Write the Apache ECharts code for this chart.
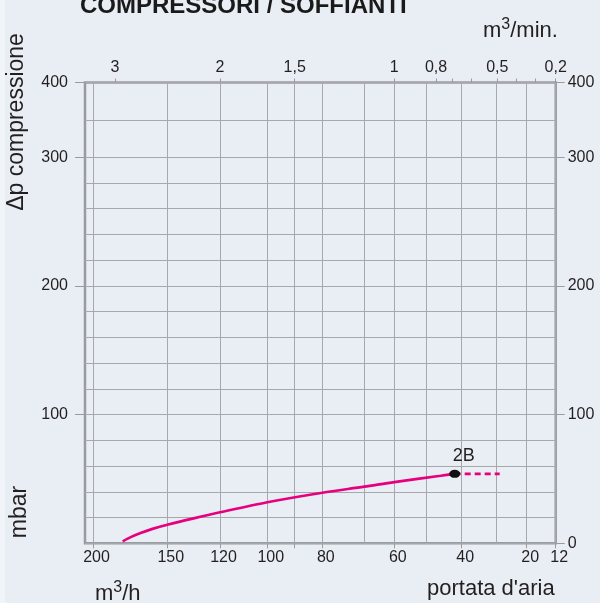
<!DOCTYPE html>
<html><head><meta charset="utf-8">
<script src="https://cdn.jsdelivr.net/npm/echarts@6/dist/echarts.min.js"></script>
<style>html,body{margin:0;padding:0;background:#e9eef5}#c{width:600px;height:603px}</style>
</head><body><div id="c"></div>
<script>
// ---- axis definitions (non-linear printed scales) ----
const flowGridValues = [200,150,120,100,90,80,70,60,50,40,30,20,12];          // m3/h grid lines
const flowScaleStops = [8,82.3,135,182.3,209.7,237.3,279.3,309.3,341.7,376.7,411.7,441.7,470.7]; // scale calibration
const flowScaleMax = 470.7;
const flowTickValues = [200,150,120,100,90,80,60,40,20,12];
const flowLabelValues = [200,150,120,100,80,60,40,20,12];
const minScaleValues = [3,2,1.5,1,0.8,0.7,0.6,0.5,0.4,0.3,0.2];   // m3/min printed scale
const minScaleStops = [30,135,209.7,309.3,351,367.7,386,412.3,431.7,450.3,470.7];
const minLabelValues = [3,2,1.5,1,0.8,0.5,0.2];
const pressureGridValues = [0,20,40,60,80,100,120,140,160,180,200,220,240,260,280,300,350,400];
const pressureLabelValues = [0,100,200,300,400];
const pressureScaleValues = [0,300,400];
const pressureScaleStops = [0,300,358.1];
// ---- data ----
const curveFlow = [180,175,168,160,150,135,120,100,80,70,60,46,42];      // m3/h
const curvePressure = [1.5,4.6,8.0,11.2,14.4,19.4,24.1,31.9,39.3,44,47.6,52.5,54]; // mbar
const extFlow = [42,29];
const extPressure = [54,54];
const pointFlow = 42, pointPressure = 54, pointName = '2B';

function interp(v, xs, ys){
  const n = xs.length;
  for (let i=0;i<n-1;i++){
    const a=xs[i], b=xs[i+1];
    if (v>=Math.min(a,b) && v<=Math.max(a,b)) return ys[i] + (v-a)/(b-a)*(ys[i+1]-ys[i]);
  }
  const i = Math.abs(v-xs[0]) < Math.abs(v-xs[n-1]) ? 0 : n-2;
  return ys[i] + (v-xs[i])/(xs[i+1]-xs[i])*(ys[i+1]-ys[i]);
}
const fx = v => interp(v, flowGridValues, flowScaleStops);
const mx = v => interp(v, minScaleValues, minScaleStops);
const py = v => interp(v, pressureScaleValues, pressureScaleStops);
function nearest(u, values, map){
  let best=values[0], bd=Infinity;
  values.forEach(v=>{const d=Math.abs(map(v)-u); if(d<bd){bd=d;best=v;}});
  return best;
}
const FONT = 'Liberation Sans, Arial, sans-serif';
const TXT = '#231f20';
const GRIDC = '#a6a8ab';
const AXC = '#999b9e';

const chart = echarts.init(document.getElementById('c'), null, {renderer:'canvas'});
const hidden = {axisLabel:{show:false}, axisLine:{show:false, onZero:false}};
chart.setOption({
  backgroundColor: '#e9eef5',
  animation: false,
  grid: {left:85, right:44.3, top:82.5, bottom:59.7, show:true, borderColor:AXC, borderWidth:2.5, backgroundColor:'transparent'},
  xAxis: [
    {type:'value', min:0, max:flowScaleMax, position:'bottom',
      axisLine:{show:false, onZero:false}, splitLine:{show:false},
      axisTick:{show:true, inside:false, length:5, lineStyle:{color:AXC}, customValues: flowTickValues.map(fx)},
      axisLabel:{show:true, margin:6, fontSize:16, fontFamily:FONT, color:TXT, padding:[0,0,0,7],
        customValues: flowLabelValues.map(fx),
        formatter: u => String(nearest(u, flowLabelValues, fx))}},
    {type:'value', min:0, max:flowScaleMax, position:'top',
      axisLine:{show:false, onZero:false}, splitLine:{show:false},
      axisTick:{show:true, inside:false, length:4, lineStyle:{color:AXC}, customValues: minScaleValues.map(mx)},
      axisLabel:{show:true, margin:7, fontSize:16, fontFamily:FONT, color:TXT,
        customValues: minLabelValues.map(mx),
        formatter: u => String(nearest(u, minLabelValues, mx)).replace('.', ',')}},
    Object.assign({type:'value', min:0, max:flowScaleMax,
      axisTick:{show:false, customValues: flowGridValues.map(fx)},
      splitLine:{show:true, lineStyle:{color:GRIDC, width:1}}}, hidden)
  ],
  yAxis: [
    {type:'value', min:0, max:pressureScaleStops[2], position:'left',
      axisLine:{show:false, onZero:false}, splitLine:{show:false},
      axisTick:{show:true, inside:false, length:10, lineStyle:{color:AXC}, customValues: pressureLabelValues.slice(1).map(py)},
      axisLabel:{show:true, margin:17, fontSize:16, fontFamily:FONT, color:TXT,
        customValues: pressureLabelValues.slice(1).map(py),
        formatter: u => String(nearest(u, pressureLabelValues, py))}},
    {type:'value', min:0, max:pressureScaleStops[2], position:'right',
      axisLine:{show:false, onZero:false}, splitLine:{show:false},
      axisTick:{show:true, inside:false, length:9, lineStyle:{color:AXC}, customValues: pressureLabelValues.map(py)},
      axisLabel:{show:true, margin:12, fontSize:16, fontFamily:FONT, color:TXT,
        customValues: pressureLabelValues.map(py),
        formatter: u => String(nearest(u, pressureLabelValues, py))}},
    Object.assign({type:'value', min:0, max:pressureScaleStops[2],
      axisTick:{show:false, customValues: pressureGridValues.map(py)},
      splitLine:{show:true, lineStyle:{color:GRIDC, width:1}}}, hidden)
  ],
  series: [
    {type:'line', xAxisIndex:0, yAxisIndex:0, smooth:0.3, showSymbol:false, z:3,
      lineStyle:{color:'#e6007e', width:2.7},
      data: curveFlow.map((f,i)=>[fx(f), py(curvePressure[i])])},
    {type:'line', xAxisIndex:0, yAxisIndex:0, showSymbol:false, z:3,
      lineStyle:{color:'#e6007e', width:2.7, type:[6,4]},
      data: extFlow.map((f,i)=>[fx(f), py(extPressure[i])])},
    {type:'scatter', xAxisIndex:0, yAxisIndex:0, z:5, symbol:'circle', symbolSize:[11,8],
      itemStyle:{color:'#111111', opacity:1},
      label:{show:true, position:'top', distance:5, offset:[9,0], formatter: pointName, fontSize:18, fontFamily:FONT, color:TXT},
      data: [[fx(pointFlow), py(pointPressure)]]}
  ],
  graphic: [
    {type:'rect', shape:{x:0, y:0, width:5, height:603}, style:{fill:'#f1f4f9'}, silent:true},
    {type:'text', x:80, y:6.5, style:{text:'COMPRESSORI / SOFFIANTI', font:'bold 24px ' + FONT, fill:'#1a1a1a', align:'left', verticalAlign:'middle'}},
    {type:'text', x:483, y:31, style:{text:'{a|m}{s|3}{a|/min.}', align:'left', verticalAlign:'middle',
      rich:{a:{fontSize:22, fontFamily:FONT, fill:TXT, lineHeight:28}, s:{fontSize:16, fontFamily:FONT, fill:TXT, verticalAlign:'top', lineHeight:28}}}},
    {type:'text', x:95, y:594, style:{text:'{a|m}{s|3}{a|/h}', align:'left', verticalAlign:'middle',
      rich:{a:{fontSize:22, fontFamily:FONT, fill:TXT, lineHeight:28}, s:{fontSize:16, fontFamily:FONT, fill:TXT, verticalAlign:'top', lineHeight:28}}}},
    {type:'text', x:427, y:589, style:{text:"portata d'aria", font:'22px ' + FONT, fill:TXT, align:'left', verticalAlign:'middle'}},
    {type:'text', x:17, y:122, rotation:Math.PI/2, style:{text:'Δp compressione', font:'23px ' + FONT, fill:TXT, align:'center', verticalAlign:'middle'}},
    {type:'text', x:20, y:512, rotation:Math.PI/2, style:{text:'mbar', font:'23px ' + FONT, fill:TXT, align:'center', verticalAlign:'middle'}}
  ]
});
</script></body></html>
